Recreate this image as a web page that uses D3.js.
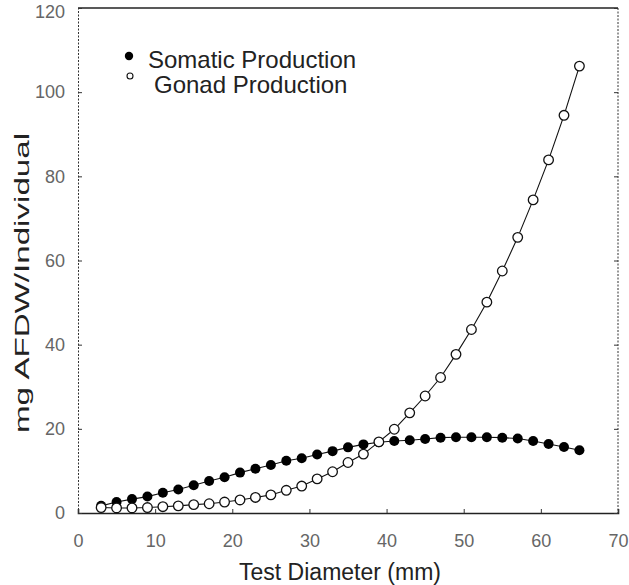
<!DOCTYPE html>
<html>
<head>
<meta charset="utf-8">
<script src="https://cdn.jsdelivr.net/npm/d3@7"></script>
<style>
	body { margin: 0; background: #fff; }
	text { font-family: "Liberation Sans", Arial, sans-serif; }
</style>
</head>
<body>
<div id="chart"></div>
<script>

// test diameter (mm)
let diameters = [3, 5, 7, 9, 11, 13, 15, 17, 19, 21, 23, 25, 27, 29, 31, 33,
	35, 37, 39, 41, 43, 45, 47, 49, 51, 53, 55, 57, 59, 61, 63, 65];

// mg AFDW / individual
let somatic = [1.7, 2.6, 3.3, 3.9, 4.8, 5.6, 6.6, 7.6, 8.5, 9.6, 10.5, 11.4, 12.4, 13.0, 13.9, 14.7,
	15.6, 16.3, 16.8, 17.1, 17.3, 17.6, 17.9, 18.0, 18.0, 18.0, 17.9, 17.7, 17.1, 16.4, 15.7, 14.9];
let gonad = [1.3, 1.2, 1.2, 1.3, 1.5, 1.7, 2.0, 2.2, 2.6, 3.1, 3.7, 4.3, 5.4, 6.4, 8.1, 9.8,
	12.0, 14.0, 16.9, 19.9, 23.8, 27.8, 32.2, 37.7, 43.6, 50.1, 57.5, 65.5, 74.4, 83.9, 94.5, 106.2];

let xTicks = [0, 10, 20, 30, 40, 50, 60, 70];
let yTicks = [0, 20, 40, 60, 80, 100, 120];

let legendItems = ["Somatic Production", "Gonad Production"];

let margin = { top: 8, right: 11, bottom: 72, left: 78 };
let width = 629 - margin.left - margin.right;
let height = 585 - margin.top - margin.bottom;

let svg = d3.select("#chart").append("svg")
	.attr("width", 629)
	.attr("height", 585);

let g = svg.append("g")
	.attr("transform", "translate(" + margin.left + "," + margin.top + ")");

let x = d3.scaleLinear().domain([0, 70]).range([0, width]);
let y = d3.scaleLinear().domain([0, 120]).range([height, 0]);

// frame: solid top, dotted sides (like the scan)
g.append("line")
	.attr("x1", 0).attr("x2", width).attr("y1", 0).attr("y2", 0)
	.attr("stroke", "#222").attr("stroke-width", 1.3);
g.append("line")
	.attr("x1", width).attr("x2", width).attr("y1", 0).attr("y2", height)
	.attr("stroke", "#333").attr("stroke-width", 1).attr("stroke-dasharray", "2,1.5");

// axes, ticks drawn inward
let xAxis = d3.axisBottom(x).tickValues(xTicks).tickSize(-4).tickPadding(21);
let yAxis = d3.axisLeft(y).tickValues(yTicks).tickSize(-4).tickPadding(13);

let xg = g.append("g")
	.attr("transform", "translate(0," + height + ")")
	.call(xAxis);
let yg = g.append("g").call(yAxis);

xg.select(".domain").attr("stroke", "#222").attr("stroke-width", 1.6);
yg.select(".domain").attr("stroke", "#333").attr("stroke-width", 1).attr("stroke-dasharray", "2,1.5");

[xg, yg].forEach(a => {
	a.selectAll(".tick line").attr("stroke", "#333");
	a.selectAll(".tick text")
		.attr("fill", "#666")
		.attr("font-size", 18)
		.style("font-family", "'Liberation Sans', Arial, sans-serif");
});
// top label is clipped in the scan; keep it just inside the page
yg.selectAll(".tick text").filter(d => d === 120).attr("dy", "0.5em");

// right side ticks
g.append("g")
	.attr("transform", "translate(" + width + ",0)")
	.call(d3.axisRight(y).tickValues(yTicks).tickSize(-4).tickFormat(""))
	.call(a => a.select(".domain").remove())
	.selectAll("line").attr("stroke", "#333");

// axis titles
svg.append("text")
	.attr("x", 340)
	.attr("y", 580)
	.attr("text-anchor", "middle")
	.attr("font-size", 23)
	.attr("fill", "#222")
	.text("Test Diameter (mm)");

svg.append("text")
	.attr("transform", "translate(29,283) rotate(-90)")
	.attr("text-anchor", "middle")
	.attr("font-size", 20)
	.attr("textLength", 300)
	.attr("lengthAdjust", "spacingAndGlyphs")
	.attr("fill", "#222")
	.text("mg AFDW/Individual");

let line = d3.line()
	.x(d => x(d[0]))
	.y(d => y(d[1]));

let somaticData = diameters.map((d, i) => [d, somatic[i]]);
let gonadData = diameters.map((d, i) => [d, gonad[i]]);

[somaticData, gonadData].forEach(data => {
	g.append("path")
		.datum(data)
		.attr("fill", "none")
		.attr("stroke", "#111")
		.attr("stroke-width", 1.1)
		.attr("d", line);
});

g.selectAll(".somatic")
	.data(somaticData)
	.enter()
	.append("circle")
	.attr("class", "somatic")
	.attr("cx", d => x(d[0]))
	.attr("cy", d => y(d[1]))
	.attr("r", 5)
	.attr("fill", "#000");

g.selectAll(".gonad")
	.data(gonadData)
	.enter()
	.append("circle")
	.attr("class", "gonad")
	.attr("cx", d => x(d[0]))
	.attr("cy", d => y(d[1]))
	.attr("r", 4.8)
	.attr("fill", "#fff")
	.attr("stroke", "#111")
	.attr("stroke-width", 1.3);

// legend
let legend = svg.append("g").attr("transform", "translate(129,56)");

legend.append("circle").attr("cx", 0).attr("cy", 0).attr("r", 4.2).attr("fill", "#000");
legend.append("circle").attr("cx", 1).attr("cy", 20).attr("r", 3)
	.attr("fill", "#fff").attr("stroke", "#111").attr("stroke-width", 1.1);

legend.selectAll(".leg-text")
	.data(legendItems)
	.enter()
	.append("text")
	.attr("x", (d, i) => 19 + i * 6)
	.attr("y", (d, i) => 12 + i * 25)
	.attr("font-size", 24)
	.attr("fill", "#222")
	.text(d => d);

</script>
</body>
</html>
